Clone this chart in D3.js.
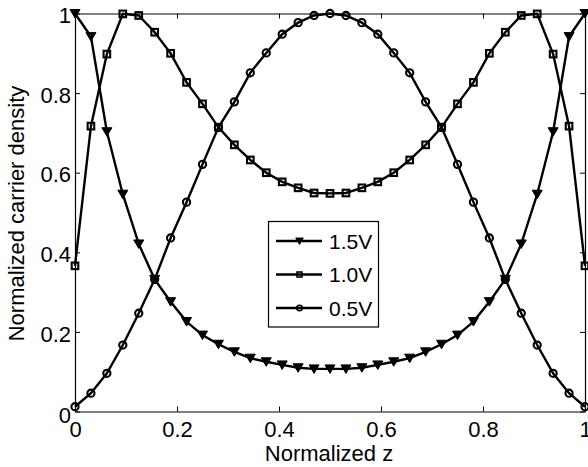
<!DOCTYPE html>
<html><head><meta charset="utf-8">
<script src="https://cdn.jsdelivr.net/npm/d3@7"></script>
<style>body{margin:0;background:#fff}svg{display:block}text{font-family:"Liberation Sans",Arial,sans-serif;fill:#000}</style>
</head><body>
<script>
// Normalized z positions (33 points, step 1/32)
const zValues = [0,0.03125,0.0625,0.09375,0.125,0.15625,0.1875,0.21875,0.25,0.28125,0.3125,0.34375,0.375,0.40625,0.4375,0.46875,0.5,0.53125,0.5625,0.59375,0.625,0.65625,0.6875,0.71875,0.75,0.78125,0.8125,0.84375,0.875,0.90625,0.9375,0.96875,1];
const v15 = [1.0,0.942,0.703,0.546,0.421,0.332,0.276,0.226,0.192,0.169,0.150,0.134,0.125,0.117,0.110,0.107,0.107,0.107,0.110,0.117,0.125,0.134,0.150,0.169,0.192,0.226,0.276,0.332,0.421,0.546,0.703,0.942,1.0];
const v10 = [0.366,0.717,0.898,0.999,0.995,0.953,0.900,0.827,0.773,0.714,0.670,0.632,0.600,0.577,0.562,0.549,0.548,0.549,0.562,0.577,0.600,0.632,0.670,0.714,0.773,0.827,0.900,0.953,0.995,0.999,0.898,0.717,0.366];
const v05 = [0.012,0.046,0.096,0.167,0.247,0.332,0.436,0.526,0.621,0.714,0.778,0.851,0.901,0.948,0.977,0.995,1.0,0.995,0.977,0.948,0.901,0.851,0.778,0.714,0.621,0.526,0.436,0.332,0.247,0.167,0.096,0.046,0.012];
const seriesNames = ["1.5V","1.0V","0.5V"];
const markerTypes = ["triangle","square","circle"];
const xTicks = [0,0.2,0.4,0.6,0.8,1];
const yTicks = [0,0.2,0.4,0.6,0.8,1];
const xLabel = "Normalized z";
const yLabel = "Normalized carrier density";

const W = 588, H = 467;
const L = 75, R = 585, T = 13.5, B = 411.5;
const svg = d3.select("body").append("svg").attr("width", W).attr("height", H);
const x = d3.scaleLinear().domain([0,1]).range([L,R]);
const y = d3.scaleLinear().domain([0,1]).range([B,T]);

const allSeries = [v15, v10, v05];

// axes
const tickLen = 5;
const fs = 22;
const gx = svg.append("g").attr("transform", `translate(0,${B})`)
  .call(d3.axisBottom(x).tickValues(xTicks).tickFormat(d3.format("")).tickSizeInner(-tickLen).tickSizeOuter(0).tickPadding(10));
const gx2 = svg.append("g").attr("transform", `translate(0,${T})`)
  .call(d3.axisTop(x).tickValues(xTicks).tickFormat("").tickSizeInner(-tickLen).tickSizeOuter(0));
const gy = svg.append("g").attr("transform", `translate(${L},0)`)
  .call(d3.axisLeft(y).tickValues(yTicks).tickFormat(d3.format("")).tickSizeInner(-tickLen).tickSizeOuter(0).tickPadding(4));
const gy2 = svg.append("g").attr("transform", `translate(${R},0)`)
  .call(d3.axisRight(y).tickValues(yTicks).tickFormat("").tickSizeInner(-tickLen).tickSizeOuter(0));
[gx,gx2,gy,gy2].forEach(g=>{
  g.select(".domain").attr("stroke","#000").attr("stroke-width",1.2);
  g.selectAll(".tick line").attr("stroke","#000").attr("stroke-width",1);
  g.selectAll("text").attr("font-size",fs).attr("font-family",'"Liberation Sans",Arial,sans-serif').attr("fill","#000");
});
gx.selectAll(".tick text").attr("dy","0.71em");
gy.selectAll(".tick text").attr("dy","0.42em");
gy.selectAll(".tick text").filter(d=>d===0).attr("dy","0.5em");

// lines
const line = d3.line().x((d,i)=>x(zValues[i])).y(d=>y(d));
const markerG = (g, type, cx, cy, k) => {
  k = k || 1;
  if (type === "triangle") {
    const s = 5*k;
    g.append("path").attr("d", `M${cx-s},${cy-s*0.8}L${cx+s},${cy-s*0.8}L${cx},${cy+s*0.9}Z`)
      .attr("fill","#000").attr("stroke","#000").attr("stroke-width",1);
  } else if (type === "square") {
    const h = 3.3*k;
    g.append("rect").attr("x",cx-h).attr("y",cy-h).attr("width",2*h).attr("height",2*h)
      .attr("fill","none").attr("stroke","#000").attr("stroke-width",2.1*k);
  } else {
    g.append("circle").attr("cx",cx).attr("cy",cy).attr("r",3.6*k)
      .attr("fill","none").attr("stroke","#000").attr("stroke-width",2.1*k);
  }
};
allSeries.forEach((vals, si) => {
  svg.append("path").datum(vals).attr("d", line).attr("fill","none").attr("stroke","#000").attr("stroke-width",2.4);
  const g = svg.append("g");
  vals.forEach((v,i)=> markerG(g, markerTypes[si], x(zValues[i]), y(v)));
});

// legend
const lg = svg.append("g");
lg.append("rect").attr("x",268.5).attr("y",221.5).attr("width",110).attr("height",105.5).attr("fill","#fff").attr("stroke","#000").attr("stroke-width",1.2);
const rowsY = [241, 274.5, 308];
seriesNames.forEach((n,i)=>{
  lg.append("line").attr("x1",276).attr("x2",322).attr("y1",rowsY[i]).attr("y2",rowsY[i]).attr("stroke","#000").attr("stroke-width",2.4);
  markerG(lg, markerTypes[i], 299.5, rowsY[i], 0.75);
  lg.append("text").attr("x",329).attr("y",rowsY[i]).attr("dy","0.36em").attr("font-size",21).text(n);
});

// axis labels
svg.append("text").attr("x",329).attr("y",461).attr("text-anchor","middle").attr("font-size",fs).text(xLabel);
svg.append("text").attr("transform",`translate(24,${(T+B)/2+1}) rotate(-90)`).attr("text-anchor","middle").attr("font-size",fs).text(yLabel);
</script>
</body></html>
